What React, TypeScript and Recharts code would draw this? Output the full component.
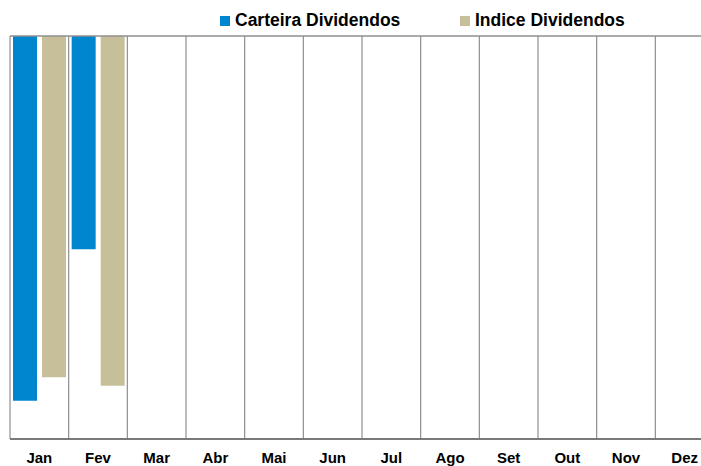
import React from 'react';
import { BarChart, Bar, XAxis, YAxis, CartesianGrid, ReferenceLine } from 'recharts';

const months = ['Jan', 'Fev', 'Mar', 'Abr', 'Mai', 'Jun', 'Jul', 'Ago', 'Set', 'Out', 'Nov', 'Dez'];
const carteira = [-0.905, -0.529, null, null, null, null, null, null, null, null, null, null];
const indice = [-0.847, -0.868, null, null, null, null, null, null, null, null, null, null];

const BLUE = '#0085CF';
const BEIGE = '#C6BF9A';

const data = months.map((m, i) => ({ month: m, carteira: carteira[i], indice: indice[i] }));

const legendItems = [
  { label: 'Carteira Dividendos', color: BLUE, left: 220 },
  { label: 'Indice Dividendos', color: BEIGE, left: 460 },
];

// gridlines sit on the category boundaries, not on the tick centres
const boundaryLines = ({ offset }: any) => {
  const step = offset.width / months.length;
  return Array.from({ length: months.length + 1 }, (_, i) => offset.left + i * step);
};

const App: React.FC = () => {
  return (
    <div
      style={{
        position: 'fixed',
        left: 0,
        top: 0,
        width: 701,
        height: 466,
        overflow: 'hidden',
        background: '#fff',
        fontFamily: '"Liberation Sans", Arial, sans-serif',
      }}
    >
      {legendItems.map((item) => (
        <div
          key={item.label}
          style={{
            position: 'absolute',
            top: 10,
            left: item.left,
            display: 'flex',
            alignItems: 'center',
            fontSize: 17.5,
            fontWeight: 'bold',
            color: '#000',
            whiteSpace: 'nowrap',
          }}
        >
          <span style={{ width: 10, height: 10, background: item.color, marginRight: 5, display: 'inline-block' }} />
          {item.label}
        </div>
      ))}
      <BarChart
        width={714}
        height={466}
        data={data}
        margin={{ top: 36, right: 0, bottom: 0, left: 10 }}
        barCategoryGap={3}
        barGap={5}
      >
        <CartesianGrid
          horizontal={false}
          vertical
          verticalCoordinatesGenerator={boundaryLines}
          stroke="#8f8f8f"
          strokeWidth={1.2}
        />
        <YAxis domain={[-1, 0]} hide />
        <XAxis
          dataKey="month"
          height={27}
          axisLine={{ stroke: '#7a7a7a', strokeWidth: 2 }}
          tickLine={false}
          tickSize={0}
          tickMargin={13}
          interval={0}
          tick={{ fill: '#000', fontSize: 15, fontWeight: 'bold', fontFamily: '"Liberation Sans", Arial, sans-serif' }}
        />
        <ReferenceLine y={0} stroke="#8f8f8f" strokeWidth={1.5} />
        <Bar dataKey="carteira" fill={BLUE} isAnimationActive={false} />
        <Bar dataKey="indice" fill={BEIGE} isAnimationActive={false} />
      </BarChart>
    </div>
  );
};

export default App;
